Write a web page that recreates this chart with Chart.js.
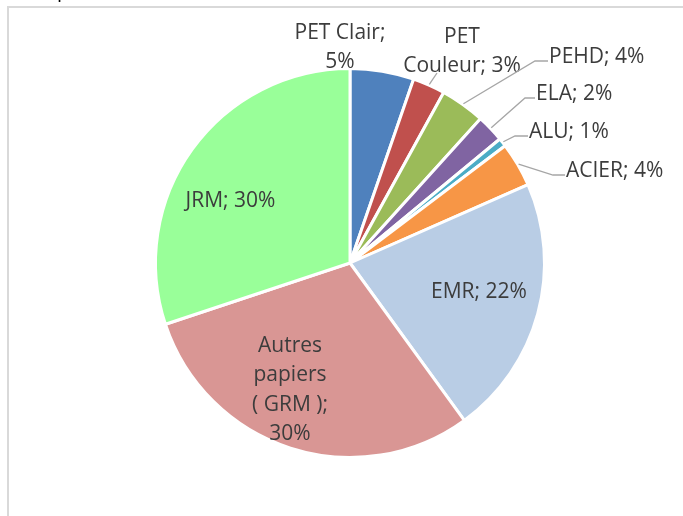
<!DOCTYPE html>
<html>
<head>
<meta charset="utf-8">
<script src="https://cdn.jsdelivr.net/npm/chart.js@4"></script>
<style>
  body { margin: 0; background: #fff; overflow: hidden; }
  #wrap { position: relative; width: 683px; height: 516px; overflow: hidden; }
  #title { position: absolute; left: 57px; top: -24px; font: 20px "Open Sans", sans-serif; line-height: 27px; color: #000; white-space: nowrap; }
  canvas { position: absolute; left: 0; top: 0; }
</style>
</head>
<body>
<div id="wrap">
  <canvas id="myChart" width="683" height="516"></canvas>
  <div id="title">produits</div>
</div>
<script>
// slice names, clockwise from 12 o'clock
var categories = ['PET Clair', 'PET Couleur', 'PEHD', 'ELA', 'ALU', 'ACIER', 'EMR', 'Autres papiers (\u00a0GRM\u00a0)', 'JRM'];
// share of each slice (%)
var values = [5.3, 2.7, 3.7, 2.3, 0.7, 3.7, 21.6, 29.9, 30.1];
var colors = ['#4f81bd', '#c0504d', '#9bbb59', '#8064a2', '#4bacc6', '#f79646', '#b9cde5', '#d99694', '#99ff99'];

// where each label sits, relative to the pie centre
var labelPlaces = [
  {x: -10, y: -224, align: 'center', maxW: 100},
  {x: 112, y: -220, align: 'center', maxW: 120, elbow: [87, -190]},
  {x: 199, y: -200.5, align: 'left', maxW: 300, elbow: [185, -202], end: [198, -202]},
  {x: 186, y: -163.5, align: 'left', maxW: 300, elbow: [175, -165], end: [185, -165]},
  {x: 179, y: -125.5, align: 'left', maxW: 300, elbow: [165, -127], end: [178, -127]},
  {x: 216, y: -86.5, align: 'left', maxW: 300, elbow: [203, -88], end: [215, -88]},
  {x: 129, y: 35, align: 'center', maxW: 300},
  {x: -60, y: 89, align: 'center', maxW: 85},
  {x: -119.5, y: -56, align: 'center', maxW: 300}
];
var lineH = 29.3;

function wrap(ctx, text, maxW) {
  var words = text.split(' ');
  var lines = [];
  var cur = '';
  words.forEach(function(w) {
    var test = cur ? cur + ' ' + w : w;
    if (cur && ctx.measureText(test).width > maxW) {
      lines.push(cur);
      cur = w;
    } else {
      cur = test;
    }
  });
  if (cur) lines.push(cur);
  return lines;
}

//light grey frame of the chart box
var framePlugin = {
  id: 'frame',
  beforeDraw: function(chart) {
    var ctx = chart.ctx;
    ctx.save();
    ctx.fillStyle = '#d9d9d9';
    ctx.fillRect(7, 6, 2, 510);
    ctx.fillRect(7, 6, 676, 2);
    ctx.restore();
  }
};

//data labels "name; xx%" with leader lines
var labelPlugin = {
  id: 'sliceLabels',
  afterDatasetsDraw: function(chart) {
    var ctx = chart.ctx;
    var meta = chart.getDatasetMeta(0);
    var total = values.reduce(function(a, b) { return a + b; }, 0);
    ctx.save();
    ctx.font = '21px "Open Sans"';
    ctx.fillStyle = '#3c3c3c';
    ctx.strokeStyle = '#a6a6a6';
    ctx.lineWidth = 1.3;
    ctx.textBaseline = 'alphabetic';
    meta.data.forEach(function(arc, i) {
      var p = labelPlaces[i];
      var cx = arc.x, cy = arc.y;
      if (p.elbow) {
        var mid = (arc.startAngle + arc.endAngle) / 2;
        var r = arc.outerRadius + 1;
        ctx.beginPath();
        ctx.moveTo(cx + r * Math.cos(mid), cy + r * Math.sin(mid));
        ctx.lineTo(cx + p.elbow[0], cy + p.elbow[1]);
        if (p.end) ctx.lineTo(cx + p.end[0], cy + p.end[1]);
        ctx.stroke();
      }
      var text = categories[i] + '; ' + Math.round(values[i] / total * 100) + '%';
      var lines = wrap(ctx, text, p.maxW);
      ctx.textAlign = p.align;
      lines.forEach(function(ln, k) {
        ctx.fillText(ln, cx + p.x, cy + p.y + k * lineH);
      });
    });
    ctx.restore();
  }
};

var ctx = document.getElementById('myChart').getContext('2d');
var myChart = new Chart(ctx, {
  type: 'pie',
  data: {
    labels: categories,
    datasets: [{
      data: values,
      backgroundColor: colors,
      borderColor: '#ffffff',
      borderWidth: 3,
      radius: 194.5
    }]
  },
  options: {
    responsive: false,
    animation: false,
    layout: {
      padding: {left: 17, right: 0, top: 10, bottom: 0}
    },
    plugins: {
      legend: {display: false},
      tooltip: {enabled: false}
    }
  },
  plugins: [framePlugin, labelPlugin]
});
</script>
</body>
</html>
